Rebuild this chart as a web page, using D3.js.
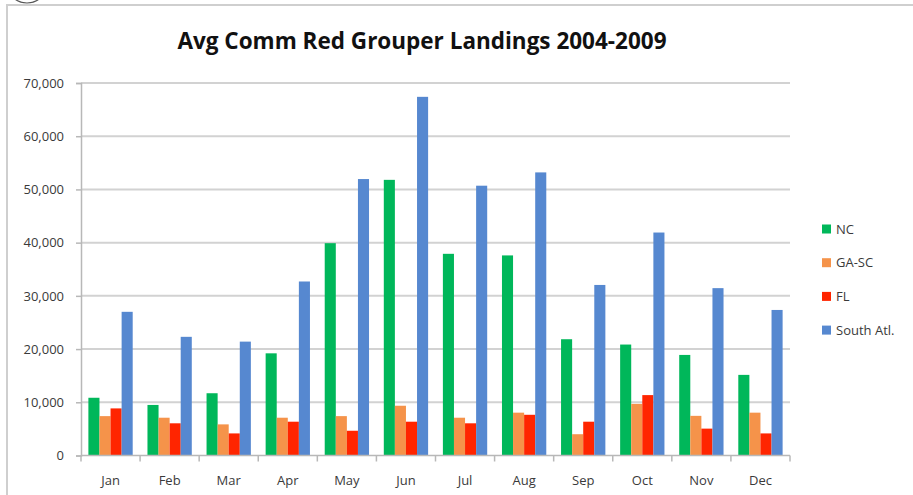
<!DOCTYPE html>
<html>
<head>
<meta charset="utf-8">
<script src="https://cdn.jsdelivr.net/npm/d3@7"></script>
<style>
  body { margin: 0; background: #fff; }
  svg { display: block; }
  .tick-label { font-family: "Open Sans", sans-serif; font-size: 13px; fill: #3a3a3a; }
</style>
</head>
<body>
<svg id="chart" width="913" height="495"></svg>
<script>
// values (avg pounds per month)
const months = ["Jan", "Feb", "Mar", "Apr", "May", "Jun", "Jul", "Aug", "Sep", "Oct", "Nov", "Dec"];
const seriesNames = ["NC", "GA-SC", "FL", "South Atl."];
const ncValues = [10850, 9500, 11700, 19200, 39900, 51800, 37900, 37600, 21850, 20850, 18900, 15150];
const gaScValues = [7400, 7100, 5850, 7100, 7400, 9350, 7100, 8050, 4000, 9700, 7450, 8050];
const flValues = [8850, 6050, 4150, 6350, 4650, 6350, 6050, 7650, 6350, 11350, 5050, 4150];
const southAtlValues = [27000, 22300, 21400, 32700, 51950, 67400, 50700, 53200, 32050, 41900, 31450, 27350];
const yTicks = [0, 10000, 20000, 30000, 40000, 50000, 60000, 70000];
const colors = ["#00b75a", "#f5934a", "#ff2500", "#5688d0"];

const allSeries = [ncValues, gaScValues, flValues, southAtlValues];

const svg = d3.select("#chart");

// frame around the chart (cut off on the right and bottom)
svg.append("rect")
    .attr("x", 7).attr("y", 5)
    .attr("width", 930).attr("height", 520)
    .attr("fill", "none")
    .attr("stroke", "#cfcfcf")
    .attr("stroke-width", 2);

// little arc left over at the top-left corner
svg.append("ellipse")
    .attr("cx", 27).attr("cy", -12)
    .attr("rx", 18).attr("ry", 15)
    .attr("fill", "none")
    .attr("stroke", "#555")
    .attr("stroke-width", 1.2);

const plot = { left: 81, right: 790, top: 83, bottom: 455.5 };

const x = d3.scaleBand()
    .domain(months)
    .range([plot.left, plot.right])
    .paddingInner(0.25)
    .paddingOuter(0.125);

const xSub = d3.scaleBand()
    .domain(d3.range(seriesNames.length))
    .range([0, x.bandwidth()]);

const y = d3.scaleLinear()
    .domain([0, 70000])
    .range([plot.bottom, plot.top]);

// gridlines
svg.append("g")
    .selectAll("line")
    .data(yTicks.slice(1))
    .join("line")
    .attr("x1", plot.left).attr("x2", plot.right)
    .attr("y1", d => y(d)).attr("y2", d => y(d))
    .attr("stroke", "#d2d2d2")
    .attr("stroke-width", 2);

// y axis
const yAxis = svg.append("g")
    .attr("transform", `translate(${plot.left},0)`)
    .call(d3.axisLeft(y).tickValues(yTicks).tickFormat(d3.format(",")).tickSize(5).tickPadding(12));
yAxis.select(".domain").attr("stroke", "#b8b8b8").attr("stroke-width", 1.5);
yAxis.selectAll(".tick line").attr("stroke", "#b8b8b8").attr("stroke-width", 1.5);
yAxis.selectAll(".tick text").attr("class", "tick-label").attr("fill", null);

// bars
const groups = svg.append("g")
    .selectAll("g")
    .data(months)
    .join("g")
    .attr("transform", d => `translate(${x(d)},0)`);

groups.selectAll("rect")
    .data((m, i) => allSeries.map((s, k) => ({ k, v: s[i] })))
    .join("rect")
    .attr("x", d => xSub(d.k))
    .attr("width", xSub.bandwidth())
    .attr("y", d => y(d.v))
    .attr("height", d => y(0) - y(d.v))
    .attr("fill", d => colors[d.k]);

// x axis: ticks sit between the categories
const step = x.step();
const boundaries = d3.range(months.length + 1).map(i => plot.left + i * step);
const xAxis = svg.append("g");
xAxis.append("line")
    .attr("x1", plot.left).attr("x2", plot.right)
    .attr("y1", y(0)).attr("y2", y(0))
    .attr("stroke", "#b8b8b8").attr("stroke-width", 1.5);
xAxis.selectAll("line.tk")
    .data(boundaries)
    .join("line")
    .attr("class", "tk")
    .attr("x1", d => d).attr("x2", d => d)
    .attr("y1", y(0)).attr("y2", y(0) + 6)
    .attr("stroke", "#b8b8b8").attr("stroke-width", 1.5);
xAxis.selectAll("text")
    .data(months)
    .join("text")
    .attr("class", "tick-label")
    .attr("x", d => x(d) + x.bandwidth() / 2)
    .attr("y", 485)
    .attr("text-anchor", "middle")
    .text(d => d);

// title
svg.append("text")
    .attr("x", 422)
    .attr("y", 49)
    .attr("text-anchor", "middle")
    .attr("font-family", "'Open Sans', sans-serif")
    .attr("font-weight", "bold")
    .attr("font-size", 22.5)
    .attr("fill", "#111")
    .text("Avg Comm Red Grouper Landings 2004-2009");

// legend
const legend = svg.append("g")
    .selectAll("g")
    .data(seriesNames)
    .join("g")
    .attr("transform", (d, i) => `translate(822,${229 + i * 33.7})`);
legend.append("rect")
    .attr("x", 0).attr("y", -4.5)
    .attr("width", 9).attr("height", 9)
    .attr("fill", (d, i) => colors[i]);
legend.append("text")
    .attr("class", "tick-label")
    .attr("x", 14).attr("y", 4.5)
    .text(d => d);
</script>
</body>
</html>
